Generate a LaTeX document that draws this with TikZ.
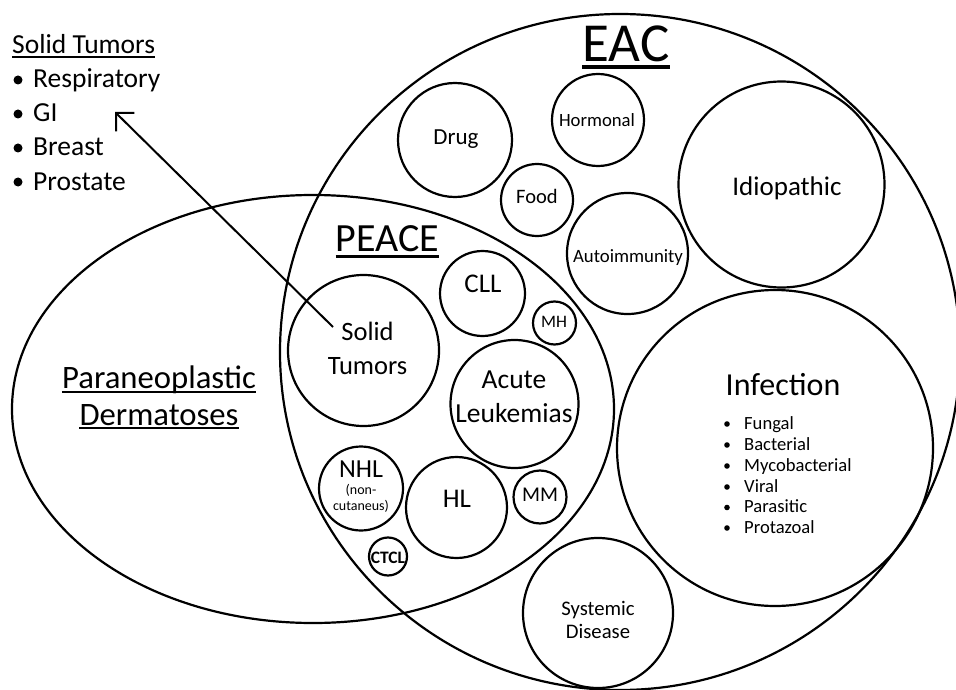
\documentclass[tikz,border=0pt]{standalone}
\usepackage{fontspec}
\setmainfont{Carlito}
\usetikzlibrary{shapes.geometric,arrows.meta}
\begin{document}
\begin{tikzpicture}[x=1pt,y=-1pt,
  bub/.style={circle,draw,line width=2.2pt,inner sep=0pt,outer sep=0pt},
  oval/.style={ellipse,draw,line width=2.2pt,inner sep=0pt,outer sep=0pt},
  lab/.style={inner sep=0pt,anchor=base},
  labw/.style={inner sep=0pt,anchor=base west},
  fs/.style={font=\fontsize{#1}{#1}\selectfont},
  uline/.style={line width=#1},
  dot/.style={fill=black},
]
\useasboundingbox (0,0) rectangle (956,690);

% big ellipses
\begin{scope}
  \clip (0,0) rectangle (956,690);
  \node[oval, minimum width=680pt, minimum height=676pt] (eac) at (620,352) {};
\end{scope}
\node[oval, minimum width=602pt, minimum height=428pt] (pd) at (313,409) {};

% EAC circles
\node[bub, minimum size=114pt] (drug) at (455,140) {};
\node[bub, minimum size=92pt] (hormonal) at (598,120) {};
\node[bub, minimum size=72pt] (food) at (537,200) {};
\node[bub, minimum size=121pt] (autoimm) at (627.5,253.5) {};
\node[bub, minimum size=206pt] (idio) at (781.5,184.5) {};
\node[bub, minimum size=316pt] (infect) at (775,448) {};
\node[bub, minimum size=150pt] (systemic) at (598,613) {};

% PEACE circles
\node[bub, minimum size=151pt] (solid) at (363.5,350.5) {};
\node[bub, minimum size=85pt] (cll) at (482.5,293.5) {};
\node[bub, minimum size=43pt] (mh) at (554.5,323) {};
\node[bub, minimum size=128pt] (acute) at (514.5,404) {};
\node[bub, minimum size=84pt] (nhl) at (361,488.5) {};
\node[bub, minimum size=101pt] (hl) at (456.5,507.5) {};
\node[bub, minimum size=53pt] (mm) at (540,497) {};
\node[bub, minimum size=38pt] (ctcl) at (388,556.5) {};

% titles
\node[lab, fs=55] (eacT) at (626,62) {EAC};
\draw[uline=3.5pt] ([yshift=-5pt]eacT.base west) -- ([yshift=-5pt]eacT.base east);
\node[lab, fs=40] (peaceT) at (387.5,251) {PEACE};
\draw[uline=3pt] ([yshift=-5pt]peaceT.base west) -- ([yshift=-5pt]peaceT.base east);

\node[lab, fs=32.7] (paraT) at (159,388) {Paraneoplastic};
\draw[uline=2pt] ([yshift=-3.5pt]paraT.base west) -- ([yshift=-3.5pt]paraT.base east);
\node[lab, fs=32.7] (dermT) at (159,425) {Dermatoses};
\draw[uline=2pt] ([yshift=-3pt]dermT.base west) -- ([yshift=-3pt]dermT.base east);

% left list
\node[labw, fs=27.5] (stHead) at (12,54) {Solid Tumors};
\draw[uline=2pt] ([yshift=-3pt]stHead.base west) -- ([yshift=-3pt]stHead.base east);
\node[labw, fs=27.5] (resp) at (33,88) {Respiratory};
\node[labw, fs=27.5] (gi) at (33,122) {GI};
\node[labw, fs=27.5] (breast) at (33,156) {Breast};
\node[labw, fs=27.5] (prost) at (33,190) {Prostate};
\fill[dot] (18,80) circle (4.5);
\fill[dot] (18,114) circle (4.5);
\fill[dot] (18,148) circle (4.5);
\fill[dot] (18,182) circle (4.5);

% circle labels
\node[lab, fs=23] (drugT) at (456,145) {Drug};
\node[lab, fs=18.7] (hormT) at (597,127) {Hormonal};
\node[lab, fs=20.5] (foodT) at (537,204) {Food};
\node[lab, fs=18.8] (autoT) at (628,262) {Autoimmunity};
\node[lab, fs=27] (idioT) at (787,195) {Idiopathic};
\node[lab, fs=32] (infT) at (783,395) {Infection};
\node[labw, fs=18.6] (i1) at (744,429) {Fungal};
\node[labw, fs=18.6] (i2) at (744,450) {Bacterial};
\node[labw, fs=18.6] (i3) at (744,471) {Mycobacterial};
\node[labw, fs=18.6] (i4) at (744,492) {Viral};
\node[labw, fs=18.6] (i5) at (744,512.5) {Parasitic};
\node[labw, fs=18.6] (i6) at (744,533) {Protazoal};
\foreach \yy in {429,450,471,492,512.5,533} \fill[dot] (727,\yy-5) circle (2.8);
\node[lab, fs=20.7] (sysT1) at (598,615) {Systemic};
\node[lab, fs=20.7] (sysT2) at (598,638) {Disease};

\node[lab, fs=26.5] (solidT1) at (367.5,340) {Solid};
\node[lab, fs=26.5] (solidT2) at (367.5,374) {Tumors};
\node[lab, fs=27] (cllT) at (483,292) {CLL};
\node[lab, fs=17.5] (mhT) at (554,327) {MH};
\node[lab, fs=27.5] (acuteT1) at (514,388) {Acute};
\node[lab, fs=27.5] (acuteT2) at (514,422) {Leukemias};
\node[lab, fs=26] (nhlT) at (361,477) {NHL};
\node[lab, fs=14] (nhlT2) at (361,494) {(non-};
\node[lab, fs=14] (nhlT3) at (361,510.5) {cutaneus)};
\node[lab, fs=27] (hlT) at (457,507) {HL};
\node[lab, fs=21] (mmT) at (540,501) {MM};
\node[lab, font=\bfseries\fontsize{17.5}{17.5}\selectfont] (ctclT) at (388,563) {CTCL};

% arrow
\coordinate (arrStart) at (333,327);
\coordinate (arrEnd) at (115,112);
\draw[line width=2pt, -{Straight Barb[length=13pt,width=26pt,line width=2pt]}] (arrStart) -- (arrEnd);
\end{tikzpicture}
\end{document}
